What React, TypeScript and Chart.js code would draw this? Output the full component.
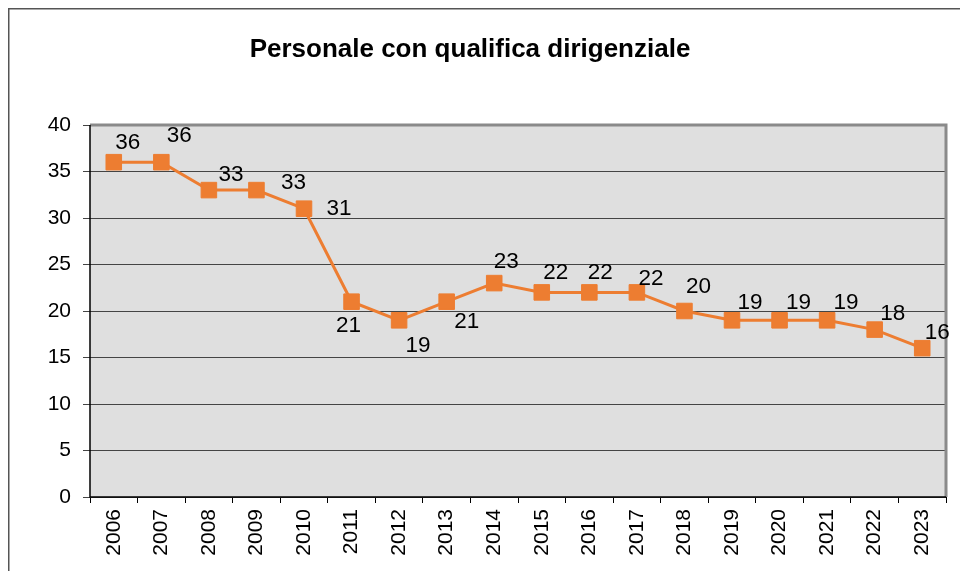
import React, { useEffect, useRef } from "react";
import { Chart, registerables } from "chart.js";

Chart.register(...registerables);

const TITLE = "Personale con qualifica dirigenziale";
const years = ["2006","2007","2008","2009","2010","2011","2012","2013","2014","2015","2016","2017","2018","2019","2020","2021","2022","2023"];
const values = [36, 36, 33, 33, 31, 21, 19, 21, 23, 22, 22, 22, 20, 19, 19, 19, 18, 16];
// label offsets (dx, dy) relative to each point, in pixels
const labelDx = [14, 18, 22, 37, 35, -3, 19, 20, 12, 14, 11, 14, 14, 18, 19, 19, 18, 15];
const labelDy = [-19, -26, -15, -7, 0, 24, 25, 20, -21, -20, -20, -14, -24, -18, -18, -18, -16, -15];

const FONT = "'Liberation Sans', Arial, sans-serif";

const decorPlugin = {
  id: "decor",
  beforeDraw(chart: any) {
    const { ctx, chartArea: a, width, height } = chart;
    ctx.save();
    ctx.fillStyle = "#ffffff";
    ctx.fillRect(0, 0, width, height);
    // outer frame (left + top visible)
    ctx.strokeStyle = "#555555";
    ctx.lineWidth = 1.5;
    ctx.beginPath();
    ctx.moveTo(0.75, height);
    ctx.lineTo(0.75, 0.75);
    ctx.lineTo(width, 0.75);
    ctx.stroke();
    // plot background
    ctx.fillStyle = "#dfdfdf";
    ctx.fillRect(a.left, a.top, a.right - a.left, a.bottom - a.top);
    // title
    ctx.fillStyle = "#000";
    ctx.font = `bold 26px ${FONT}`;
    ctx.textAlign = "center";
    ctx.textBaseline = "middle";
    ctx.fillText(TITLE, 462, 42);
    ctx.restore();
  },
  beforeDatasetsDraw(chart: any) {
    const { ctx, chartArea: a } = chart;
    ctx.save();
    ctx.strokeStyle = "#8a8a8a";
    ctx.lineWidth = 3;
    ctx.beginPath();
    ctx.moveTo(a.left, a.top);
    ctx.lineTo(a.right, a.top);
    ctx.lineTo(a.right, a.bottom);
    ctx.stroke();
    ctx.strokeStyle = "#000";
    ctx.lineWidth = 1.5;
    ctx.beginPath();
    ctx.moveTo(a.left, a.top);
    ctx.lineTo(a.left, a.bottom);
    ctx.lineTo(a.right, a.bottom);
    ctx.stroke();
    ctx.restore();
  },
  afterDatasetsDraw(chart: any) {
    const { ctx } = chart;
    const meta = chart.getDatasetMeta(0);
    ctx.save();
    ctx.fillStyle = "#000";
    ctx.font = `22.5px ${FONT}`;
    ctx.textAlign = "center";
    ctx.textBaseline = "middle";
    meta.data.forEach((pt: any, i: number) => {
      ctx.fillText(String(values[i]), pt.x + labelDx[i], pt.y + labelDy[i]);
    });
    ctx.restore();
  },
};

export default function App() {
  const ref = useRef<HTMLCanvasElement>(null);
  useEffect(() => {
    if (!ref.current) return;
    const chart = new Chart(ref.current, {
      type: "line",
      data: {
        labels: years,
        datasets: [
          {
            data: values,
            borderColor: "#ED7D31",
            backgroundColor: "#ED7D31",
            borderWidth: 3,
            pointStyle: "rect",
            pointRadius: 11,
            pointBorderWidth: 1,
            pointBorderColor: "#ED7D31",
            pointBackgroundColor: "#ED7D31",
            tension: 0,
          },
        ],
      },
      options: {
        animation: false,
        responsive: false,
        layout: { padding: { left: 0, top: 117, right: 22, bottom: 0 } },
        plugins: {
          legend: { display: false },
          title: { display: false },
          tooltip: { enabled: false },
        },
        scales: {
          x: {
            offset: true,
            grid: {
              offset: true,
              drawOnChartArea: false,
              drawTicks: true,
              tickLength: 6,
              color: "#000",
            },
            border: { display: false },
            ticks: {
              minRotation: 90,
              maxRotation: 90,
              autoSkip: false,
              color: "#000",
              padding: 6,
              font: { family: FONT, size: 21 },
            },
            afterFit(scale: any) {
              scale.height = 74;
            },
          },
          y: {
            min: 0,
            max: 40,
            ticks: {
              stepSize: 5,
              color: "#000",
              padding: 12,
              font: { family: FONT, size: 21 },
            },
            grid: {
              color: "#444",
              lineWidth: 1,
              tickLength: 7,
              drawTicks: true,
            },
            border: { display: false },
            afterFit(scale: any) {
              scale.width = 82;
            },
          },
        },
      },
      plugins: [decorPlugin],
    });
    return () => chart.destroy();
  }, []);
  return (
    <div style={{ width: 960, height: 563 }}>
      <canvas ref={ref} width={960} height={563} style={{ display: "block" }} />
    </div>
  );
}
